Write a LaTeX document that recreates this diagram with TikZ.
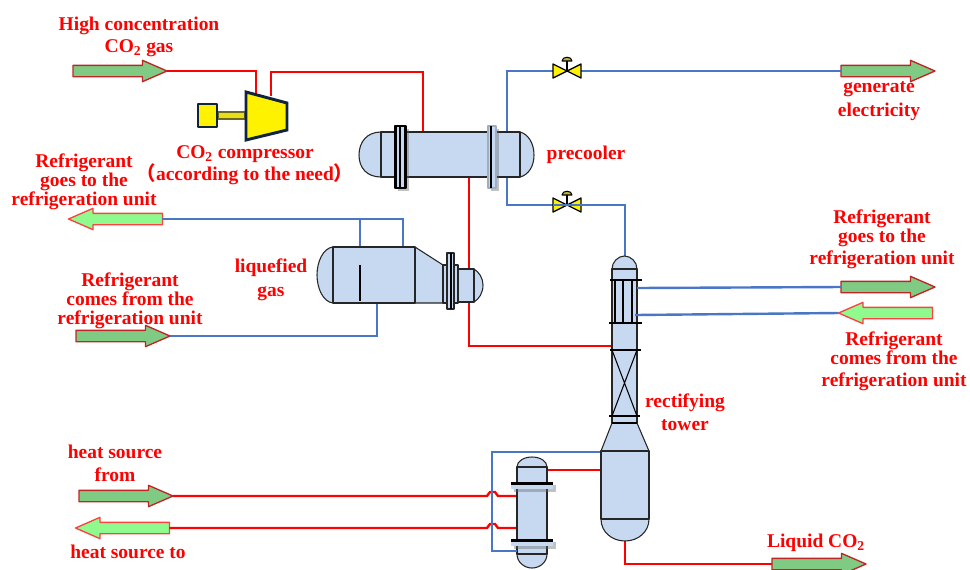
\documentclass[tikz,border=0pt]{standalone}
\usepackage{fontspec}
\setmainfont{Liberation Serif}
\newfontfamily\cjkparen{Noto Sans CJK SC}
\usetikzlibrary{shapes.arrows,shadows}
\definecolor{bodyblue}{HTML}{C6D9F1}
\definecolor{pipeb}{HTML}{4A76C6}
\definecolor{darkgreen}{HTML}{7FCB84}
\definecolor{lightgreen}{HTML}{8FFB8F}
\definecolor{navyline}{HTML}{0F243E}
\tikzset{
	pipered/.style={draw=red, line width=1.8pt, line join=miter},
	pipeblue/.style={draw=pipeb, line width=1.8pt, line join=miter},
	vessel/.style={fill=bodyblue, draw=black!85, line width=0.8pt},
	inner/.style={draw=black, line width=0.8pt},
	flange/.style={fill=bodyblue, draw=black, line width=0.8pt, drop shadow={shadow xshift=2pt, shadow yshift=-2pt, fill=black!60, opacity=0.4}},
	labeltext/.style={text=red, font=\fontsize{14.6}{14.25}\selectfont\bfseries, align=center, inner sep=0pt},
	feedarrow/.style={single arrow, minimum height=70.5pt, minimum width=15pt, single arrow head extend=3.75pt, single arrow tip angle=47, inner xsep=0pt, inner ysep=3.75pt, outer sep=0pt, line width=1pt},
	outdark/.style={feedarrow, fill=darkgreen, draw=red!70!black!85},
	backlight/.style={feedarrow, fill=lightgreen, draw=red!75, shape border rotate=180},
}
\begin{document}
\begin{tikzpicture}[x=0.75pt, y=-0.75pt, line cap=butt, line join=round]
	\useasboundingbox (0,0) rectangle (970,569);
	% stream arrows
	\node[outdark] (gasin) at (113.5,71) {};
	\node[outdark] (powerout) at (881.5,71) {};
	\node[backlight] (refgoL) at (122,219) {};
	\node[outdark] (refinL) at (116.5,336) {};
	\node[outdark] (refgoR) at (881.5,287) {};
	\node[backlight] (refinR) at (892,313) {};
	\node[outdark] (heatin) at (119.5,496) {};
	\node[backlight] (heatback) at (129,528) {};
	\node[outdark] (liquid) at (812.5,564) {};
	% fixed points on the equipment
	\coordinate (CompIn) at (256,94);
	\coordinate (CompOut) at (271,96);
	\coordinate (PreA) at (423,132);
	\coordinate (PreB) at (507,132);
	\coordinate (PreC) at (507,177);
	\coordinate (PreD) at (469,177);
	\coordinate (ValveA) at (567,71);
	\coordinate (ValveB) at (567,205);
	\coordinate (TowerTop) at (625,257);
	\coordinate (TowerFeed) at (611,346);
	\coordinate (TowerR) at (637,288);
	\coordinate (TowerS) at (635,315);
	\coordinate (LiqA) at (403,247);
	\coordinate (LiqB) at (360,247);
	\coordinate (LiqC) at (377,303);
	\coordinate (SumpA) at (601,452);
	\coordinate (SumpB) at (601,470);
	\coordinate (SumpC) at (625,541);
	\coordinate (ReboilA) at (517,551);
	\coordinate (ReboilB) at (547,470);
	\coordinate (ReboilC) at (517,496);
	\coordinate (ReboilD) at (517,528);
	% pipes
	\draw[pipered] (gasin.tip) -| (CompIn);
	\draw[pipered] (CompOut) |- (423,72) -- (PreA);
	\draw[pipered] (PreD) |- (TowerFeed);
	\draw[pipered] (ReboilB) -- (SumpB);
	\draw[pipered] (SumpC) |- (liquid.west);
	\draw[pipered] (heatin.tip) -- (487,496) -- (490,492) -- (495,492) -- (498,496) -- (ReboilC);
	\draw[pipered] (heatback.east) -- (487,528) -- (490,524) -- (495,524) -- (498,528) -- (ReboilD);
	\draw[pipeblue] (PreB) |- (powerout.west);
	\draw[pipeblue] (PreC) |- (625,205) -- (TowerTop);
	\draw[pipeblue] (refgoL.east) -- (403,219) -- (LiqA);
	\draw[pipeblue] (360,219) -- (LiqB);
	\draw[pipeblue] (refinL.tip) -| (LiqC);
	\draw[pipeblue] (SumpA) -| (492,551) -- (ReboilA);
	% precooler
	\draw[vessel] (381,132) .. controls (367,132) and (359,142) .. (359,155) .. controls (359,168) and (367,177) .. (381,177) -- cycle;
	\draw[vessel] (520,132) .. controls (528,134) and (534,143) .. (534,155) .. controls (534,167) and (528,175) .. (520,177) -- cycle;
	\draw[vessel] (381,132) rectangle (520,177);
	\draw[flange] (395,126) rectangle (406,188);
	\fill[black] (395,126) rectangle (397,188);
	\fill[black] (404,126) rectangle (406,188);
	\draw[inner] (400,126) -- (400,188);
	\draw[flange, draw=bodyblue!80!black] (488,126) rectangle (496,188);
	\draw[inner] (491,126) -- (491,188);
	% valves
	\foreach \v in {ValveA,ValveB} {
		\begin{scope}[shift={(\v)}]
			\draw[fill=yellow, draw=black, line width=1pt] (-14,-7) -- (14,7) -- (14,-7) -- (-14,7) -- cycle;
			\draw[black, line width=1pt] (0,0) -- (0,-10);
			\draw[fill=yellow!70!black, draw=black, line width=0.8pt] (-5,-10) .. controls (-5,-15) and (5,-15) .. (5,-10) -- cycle;
		\end{scope}
	}
	\draw[pipeblue, line width=1.2pt] (553,205) -- (582,205);
	% compressor
	\draw[fill=yellow!90!black, draw=olive!70!black, line width=0.8pt] (218,112) rectangle (245,119);
	\draw[fill=yellow, draw=navyline, line width=2.2pt] (198,104) rectangle (217,127);
	\draw[fill=yellow, draw=navyline, line width=2.2pt, line join=miter] (246,92) -- (287,103) -- (287,130) -- (246,140) -- cycle;
	% liquefied gas vessel
	\draw[vessel] (333,247) .. controls (323,248) and (317,262) .. (317,275) .. controls (317,288) and (323,302) .. (333,303) -- cycle;
	\draw[vessel] (415,247) -- (443,265) -- (443,303) -- (415,303) -- cycle;
	\draw[vessel] (333,247) rectangle (415,303);
	\draw[vessel] (443,265) rectangle (458,303);
	\draw[vessel] (474,269) .. controls (479,272) and (483,278) .. (483,285) .. controls (483,293) and (479,299) .. (474,302) -- cycle;
	\draw[vessel] (458,269) rectangle (474,302);
	\draw[vessel] (447,253) rectangle (454,309);
	\draw[inner] (451,253) -- (451,309);
	\draw[inner] (360,265) -- (360,301);
	% rectifying tower
	\draw[vessel] (612,269) .. controls (612,262) and (618,256) .. (624.5,256) .. controls (631,256) and (637,262) .. (637,269) -- cycle;
	\draw[vessel] (612,269) rectangle (637,423);
	\draw[vessel] (612,423) -- (601,451) -- (649,451) -- (637,423) -- cycle;
	\draw[vessel] (601,519) .. controls (601,532) and (612,541) .. (625,541) .. controls (638,541) and (649,532) .. (649,519) -- cycle;
	\draw[vessel] (601,451) rectangle (649,519);
	\foreach \y/\a/\b in {280/610/642, 323/609/642, 350/610/641, 416/609/640} {
		\draw[inner] (\a,\y) -- (\b,\y);
	}
	\foreach \x in {615,623,632} {
		\draw[inner] (\x,280) -- (\x,323);
	}
	\draw[inner] (612,350) -- (637,416) (637,350) -- (612,416);
	\draw[black, line width=1.5pt] (612,423) -- (637,423);
	\draw[pipeblue] (TowerR) -- (refgoR.west);
	\draw[pipeblue] (TowerS) -- (refinR.tip);
	% reboiler
	\draw[vessel] (517,467) .. controls (517,461) and (524,457) .. (532,457) .. controls (540,457) and (547,461) .. (547,467) -- cycle;
	\draw[vessel] (517,554) .. controls (517,562) and (524,568) .. (532,568) .. controls (540,568) and (547,562) .. (547,554) -- cycle;
	\draw[vessel] (517,467) rectangle (547,554);
	\foreach \y in {482,539} {
		\fill[bodyblue, drop shadow={shadow xshift=2pt, shadow yshift=-2pt, fill=black!60, opacity=0.4}] (511,\y) rectangle (553,\y+7);
		\fill[black] (511,\y) rectangle (553,\y+3);
	}
	\draw[pipeblue] (492,551) -- (ReboilA);
	% labels
	\node[labeltext] (lblgas) at (139,37) {High concentration\\[2.2pt]CO\textsubscript{2} gas};
	\node[labeltext] (lblcomp) at (245,165) {CO\textsubscript{2} compressor\\{\cjkparen （}according to the need{\cjkparen ）}};
	\node[labeltext] (lblgoL) at (84,182) {Refrigerant\\goes to the\\refrigeration unit};
	\node[labeltext] (lblpre) at (586,155) {precooler};
	\node[labeltext] (lblliq) at (271,280) {liquefied\\[3.5pt]gas};
	\node[labeltext] (lblinL) at (130,301) {Refrigerant\\comes from the\\refrigeration unit};
	\node[labeltext] (lblpower) at (879,101) {generate\\[3.5pt]electricity};
	\node[labeltext] (lblgoR) at (882,239) {Refrigerant\\goes to the\\[2.2pt]refrigeration unit};
	\node[labeltext] (lblinR) at (894,361) {Refrigerant\\comes from the\\[2.2pt]refrigeration unit};
	\node[labeltext] (lbltower) at (685,412) {rectifying\\[3pt]tower};
	\node[labeltext] (lblheatin) at (115,463) {heat source\\[3pt]from};
	\node[labeltext] (lblheatback) at (128,552) {heat source to};
	\node[labeltext] (lblliquid) at (816,543) {Liquid CO\textsubscript{2}};
\end{tikzpicture}
\end{document}
